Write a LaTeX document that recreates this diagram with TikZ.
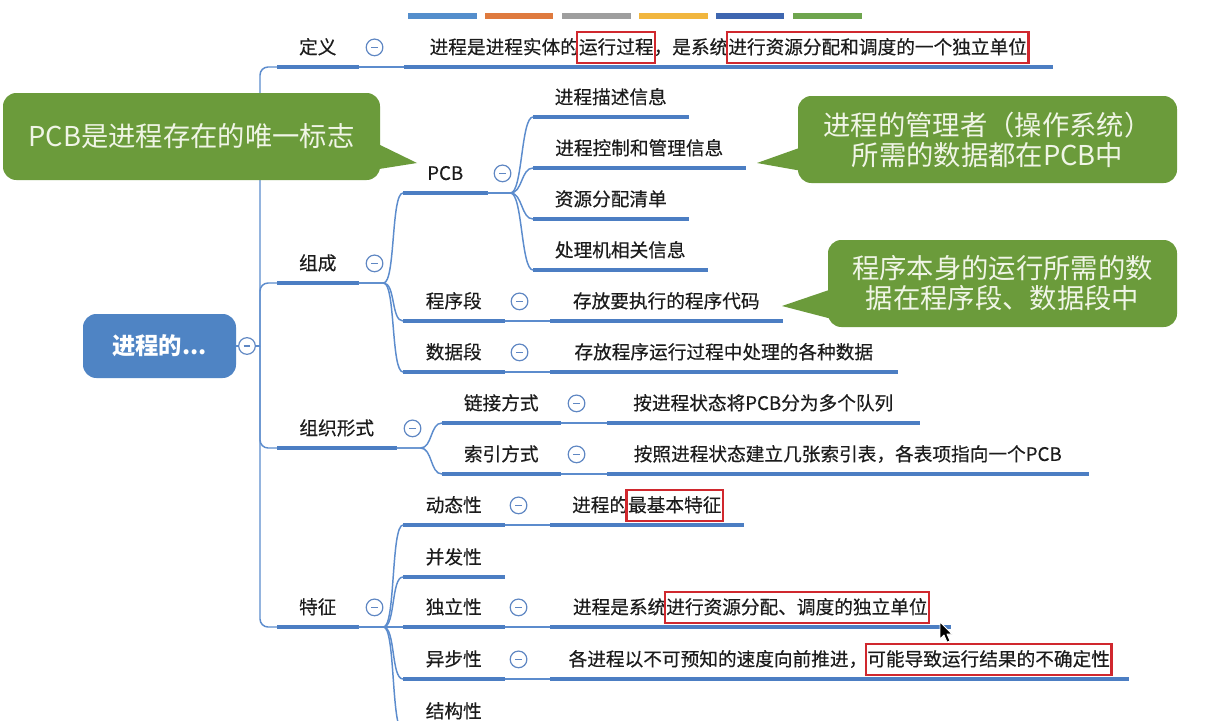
\documentclass[tikz,border=0pt]{standalone}
\usepackage{fontspec}
\setmainfont{Noto Sans CJK SC}
\newfontfamily\treefont[FakeBold=0.35]{Noto Sans CJK SC}
\usetikzlibrary{calc}
\definecolor{ulcol}{RGB}{76,126,195}
\definecolor{conncol}{RGB}{92,140,205}
\definecolor{txt}{RGB}{28,28,28}
\definecolor{mcol}{RGB}{95,135,195}
\definecolor{rootfill}{RGB}{79,132,196}
\definecolor{hlred}{RGB}{208,40,46}
\definecolor{cgreen}{RGB}{107,155,59}
\definecolor{ctext}{RGB}{240,245,230}
\definecolor{barA}{RGB}{84,142,204}
\definecolor{barB}{RGB}{223,122,62}
\definecolor{barC}{RGB}{158,158,158}
\definecolor{barD}{RGB}{241,182,62}
\definecolor{barE}{RGB}{62,102,176}
\definecolor{barF}{RGB}{110,165,78}
\newcommand\tfont{\treefont\fontsize{14pt}{16pt}\selectfont}
\newcommand\hlbox[1]{%
 \setbox0=\hbox{#1}%
 \dimen0=\wd0 \advance\dimen0 by 4pt
 \rlap{\kern-2pt\textcolor{hlred}{%
   \vrule height 17pt depth 7.5pt width 1.6pt%
   \kern-1.6pt
   \rlap{\vrule height 17pt depth -15.4pt width \dimen0}%
   \rlap{\vrule height -5.9pt depth 7.5pt width \dimen0}%
   \kern\dimen0 \kern-1.6pt
   \vrule height 17pt depth 7.5pt width 1.6pt}}%
 \box0}
\tikzset{
 topic/.style={anchor=south west, inner xsep=0pt, inner ysep=7.5pt, text height=11.9pt, text depth=2.1pt, font=\tfont, text=txt},
 uline/.style={draw=ulcol, line width=3.4pt},
 conn/.style={draw=conncol, line width=1.1pt},
 mbtn/.style={circle, draw=mcol, fill=white, line width=0.9pt, minimum size=12.5pt, inner sep=0pt,
   path picture={\draw[mcol, line width=0.9pt] ([xshift=-2.6pt]path picture bounding box.center) -- ([xshift=2.6pt]path picture bounding box.center);}},
 callout/.style={fill=cgreen, rounded corners=10pt, text=ctext, font=\fontsize{20.5pt}{22.5pt}\selectfont, align=center, inner sep=0pt},
 rootbox/.style={fill=rootfill, rounded corners=10pt, text=white, font=\fontsize{17.5pt}{19pt}\selectfont\bfseries, inner sep=0pt},
 hlcursor/.style={fill=black, draw=white, line width=0.6pt, line join=round}
}
% name, x0, x1, y of underline, text
\newcommand\topic[5]{%
  \node[topic, minimum width={(#3-#2)*0.75pt}] (#1) at (#2,#4) {#5};
  \draw[uline] (#1.south west) -- (#1.south east);}
\newcommand\btn[2][16]{\node[mbtn] (#2-m) at ($(#2.east)+(#1,0)$) {};}
% parent, child, branch offset
\newcommand\branch[3][24]{\draw[conn] (#2.south east) -- ++(#1,0) .. controls +(12,0) and +(-12,0) .. (#3.south west);}
\newcommand\single[2]{\draw[conn] (#1.south east) -- (#2.south west);}
\begin{document}
\begin{tikzpicture}[x=0.75pt,y=-0.75pt]
\useasboundingbox (0,0) rectangle (1211,721);
\clip (0,0) rectangle (1211,721);
\fill[white] (0,0) rectangle (1211,721);

% colour bars
\fill[barA] (408,13) rectangle (477,19);
\fill[barB] (485,13) rectangle (553,19);
\fill[barC] (562,13) rectangle (631,19);
\fill[barD] (639,13) rectangle (708,19);
\fill[barE] (716,13) rectangle (784,19);
\fill[barF] (793,13) rectangle (862,19);

% root
\node[rootbox, minimum width=114.75pt, minimum height=48pt] (root) at (159.5,346) {进程的...};
\coordinate (tr) at (260,346);

% level 1
\topic{def}{277}{358}{67}{定义}
\topic{zc}{277}{358}{283}{组成}
\topic{zz}{277}{396}{448}{组织形式}
\topic{tz}{277}{358}{627}{特征}

\draw[conn] (root.east) -- (tr);
\draw[conn, rounded corners=6pt] (tr) |- (def.south west);
\draw[conn, rounded corners=6pt] (tr) |- (zc.south west);
\draw[conn, rounded corners=6pt] (tr) |- (zz.south west);
\draw[conn, rounded corners=6pt] (tr) |- (tz.south west);

% definition
\topic{d1}{404}{1052}{67}{进程是进程实体的\hlbox{运行过程}，是系统\hlbox{进行资源分配和调度的一个独立单位}}
\single{def}{d1}

% composition
\topic{pcb}{403}{487}{193}{PCB}
\topic{cxd}{403}{504}{321}{程序段}
\topic{sjd}{403}{504}{372}{数据段}
\branch[25]{zc}{pcb}
\branch[25]{zc}{cxd}
\branch[25]{zc}{sjd}

\topic{p1}{533}{688}{117}{进程描述信息}
\topic{p2}{533}{745}{168}{进程控制和管理信息}
\topic{p3}{533}{688}{219}{资源分配清单}
\topic{p4}{533}{707}{270}{处理机相关信息}
\branch[23]{pcb}{p1}
\branch[23]{pcb}{p2}
\branch[23]{pcb}{p3}
\branch[23]{pcb}{p4}

\topic{c1}{550}{782}{321}{存放要执行的程序代码}
\topic{s1}{550}{897}{372}{存放程序运行过程中处理的各种数据}
\single{cxd}{c1}
\single{sjd}{s1}

% organisation
\topic{lj}{442}{560}{423}{链接方式}
\topic{sy}{442}{560}{474}{索引方式}
\branch[24]{zz}{lj}
\branch[24]{zz}{sy}
\topic{lj1}{607}{919}{423}{按进程状态将PCB分为多个队列}
\topic{sy1}{607}{1088}{474}{按照进程状态建立几张索引表，各表项指向一个PCB}
\single{lj}{lj1}
\single{sy}{sy1}

% features
\topic{dt}{403}{504}{525}{动态性}
\topic{bf}{403}{504}{577}{并发性}
\topic{dl}{403}{504}{627}{独立性}
\topic{yb}{403}{504}{679}{异步性}
\topic{jg}{403}{504}{731}{结构性}
\branch[25]{tz}{dt}
\branch[25]{tz}{bf}
\branch[25]{tz}{dl}
\branch[25]{tz}{yb}
\branch[25]{tz}{jg}
\topic{dt1}{550}{743}{525}{进程的\hlbox{最基本特征}}
\topic{dl1}{550}{950}{627}{进程是系统\hlbox{进行资源分配、调度的独立单位}}
\topic{yb1}{550}{1128}{679}{各进程以不可预知的速度向前推进，\hlbox{可能导致运行结果的不确定性}}
\single{dt}{dt1}
\single{dl}{dl1}
\single{yb}{yb1}

% collapse buttons
\node[mbtn] (root-m) at (247,346) {};
\btn{def}
\btn{zc}
\btn[15]{pcb}
\btn[15]{cxd}
\btn[15]{sjd}
\btn{zz}
\btn{lj}
\btn{sy}
\btn{tz}
\btn[14]{dt}
\btn[14]{dl}
\btn[14]{yb}

% callouts
\fill[cgreen] (376,143) -- (417,163) -- (379,169) -- cycle;
\node[callout, minimum width=282.75pt, minimum height=65.25pt] (co1) at (191.5,136.5) {PCB是进程存在的唯一标志};
\fill[cgreen] (802,147) -- (757,163) -- (802,171) -- cycle;
\node[callout, minimum width=284.25pt, minimum height=65.25pt] (co2) at (987.5,139.5) {进程的管理者（操作系统）\\所需的数据都在PCB中};
\fill[cgreen] (832,289) -- (782,306) -- (832,319) -- cycle;
\node[callout, minimum width=261.75pt, minimum height=65.25pt] (co3) at (1002.5,283.5) {程序本身的运行所需的数\\据在程序段、数据段中};

% mouse pointer
\filldraw[hlcursor] (940,622) -- (940,639) -- (944,635) -- (947,642) -- (950,641) -- (947,634) -- (952,634) -- cycle;
\end{tikzpicture}
\end{document}
